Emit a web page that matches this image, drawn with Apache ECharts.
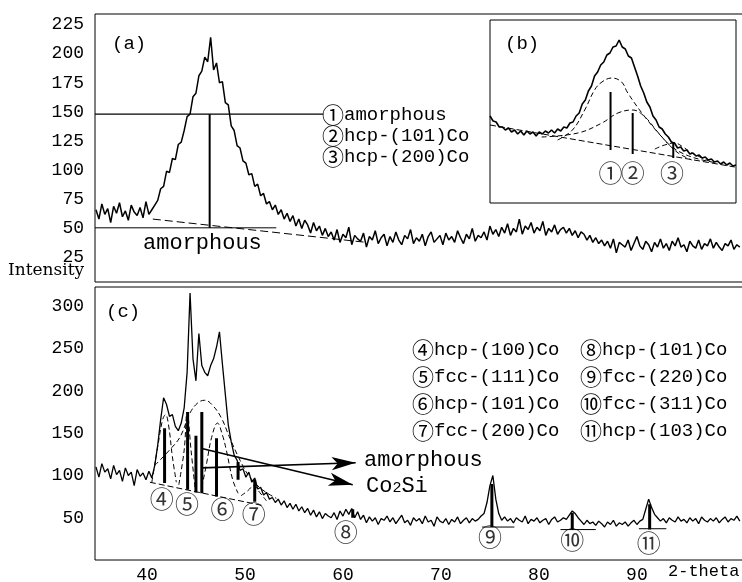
<!DOCTYPE html>
<html>
<head>
<meta charset="utf-8">
<script src="https://cdn.jsdelivr.net/npm/echarts@6/dist/echarts.min.js"></script>
<style>
  html, body { margin: 0; padding: 0; background: #fff; }
  #main { width: 742px; height: 582px; }
</style>
</head>
<body>
<div id="main"></div>
<script>
// scan step of the diffractometer traces (deg 2-theta)
const twoThetaStart = 34.8;
const twoThetaStep = 0.3;

// (a) amorphous film
const intensityA = [
  66, 58, 71, 62, 67, 55, 69, 63, 72, 60,
  65, 57, 70, 64, 61, 68, 59, 73, 62, 66,
  70, 74, 84, 86, 99, 98, 110, 109, 122, 124,
  134, 146, 148, 163, 166, 181, 185, 197, 193, 214,
  186, 192, 175, 176, 158, 156, 138, 134, 121, 119,
  108, 106, 96, 97, 86, 88, 78, 80, 71, 73,
  66, 70, 62, 66, 58, 63, 56, 61, 52, 58,
  50, 57, 53, 46, 55, 48, 52, 44, 50, 43,
  47, 40, 49, 38, 45, 42, 51, 36, 44, 41,
  39, 46, 34, 43, 40, 48, 37, 42, 45, 35,
  43, 38, 47, 40, 36, 44, 41, 49, 37, 42,
  39, 45, 35, 43, 47, 38, 41, 44, 36, 46,
  40, 43, 38, 48, 42, 37, 45, 41, 50, 39,
  44, 42, 47, 40, 52, 45, 49, 43, 51, 46,
  54, 44, 50, 47, 58, 45, 52, 49, 55, 46,
  51, 48, 56, 44, 50, 47, 53, 45, 49, 51,
  46, 50, 44, 48, 42, 47, 45, 40, 44, 38,
  42, 37, 40, 35, 39, 33, 41, 29, 38, 36,
  34, 40, 31, 37, 43, 35, 32, 39, 36, 30,
  38, 34, 41, 33, 37, 31, 39, 35, 42, 34,
  36, 30, 39, 35, 33, 40, 32, 37, 35, 41,
  33, 38, 34, 31, 37, 35, 40, 32, 36, 34
];

// (c) annealed film
const intensityC = [
  110, 98, 114, 104, 108, 96, 112, 101, 106, 93,
  109, 100, 104, 88, 107, 99, 103, 95, 105, 97,
  112, 136, 166, 192, 184, 170, 172, 158, 153, 162,
  180, 222, 316, 238, 212, 268, 230, 222, 218, 230,
  238, 252, 270, 232, 196, 160, 140, 124, 118, 106,
  108, 98, 104, 92, 97, 84, 86, 77, 80, 72,
  74, 68, 72, 65, 70, 62, 67, 60, 66, 58,
  63, 56, 61, 53, 59, 51, 57, 49, 55, 52,
  50, 56, 48, 58, 52, 60, 54, 61, 50, 57,
  48, 53, 44, 51, 46, 50, 42, 49, 47, 52,
  45, 50, 43, 48, 53, 44, 47, 41, 50, 46,
  49, 43, 52, 45, 47, 40, 51, 46, 44, 49,
  42, 48, 45, 51, 43, 47, 50, 44, 49, 46,
  48, 52, 55, 68, 88, 100, 72, 55, 47, 51,
  46, 49, 44, 50, 47, 45, 52, 43, 48, 46,
  50, 44, 47, 49, 42, 48, 51, 45, 47, 50,
  48, 53, 58, 55, 50, 46, 42, 47, 43, 45,
  41, 46, 43, 39, 45, 42, 47, 40, 44, 42,
  45, 40, 44, 47, 42, 46, 48, 60, 72, 62,
  54, 50, 46, 49, 44, 50, 47, 45, 51, 46,
  48, 44, 50, 46, 49, 43, 51, 47, 45, 49,
  46, 50, 44, 48, 51, 45, 49, 47, 52, 46
];

// (b) enlarged view of the hump in (a)
const insetStart = 36;
const insetStep = 0.25;
const insetIntensity = [
  127, 122, 121, 116, 116, 113, 115, 111, 113, 109,
  112, 108, 112, 109, 111, 107, 111, 109, 112, 110,
  113, 110, 114, 112, 116, 115, 120, 121, 127, 130,
  139, 143, 152, 157, 167, 171, 178, 181, 188, 190,
  196, 197, 203, 196, 194, 187, 185, 176, 167, 157,
  150, 141, 136, 127, 123, 116, 114, 109, 106, 101,
  100, 95, 96, 92, 93, 89, 90, 87, 88, 85,
  86, 83, 84, 81, 82, 79, 81, 78, 80, 77,
  78
];
const insetFit1 = [[41.5, 103], [42.7, 113], [43.7, 133], [44.5, 153], [45.1, 161], [45.9, 165], [46.7, 161], [47.2, 150], [48.6, 126], [50.2, 103], [51.3, 90], [52.4, 83]];
const insetFit2 = [[40.2, 106], [43.15, 110], [45.1, 120], [46.4, 130], [47.6, 133], [48.6, 126], [49.7, 110], [50.8, 96], [52.4, 86], [54.5, 80]];
const insetFit3 = [[49.4, 94], [50.2, 98], [51.0, 100], [51.7, 96], [52.4, 90], [54.0, 81]];
const insetBase = [[36, 118], [55.9, 76]];
const insetSticks = [[45.8, 93, 151], [47.6, 89, 130], [50.9, 85, 101]];
const insetMarks = [[45.8, 70, '①'], [47.6, 70, '②'], [50.8, 70, '③']];

// (a) annotations
const refLineA = [[34.7, 148], [58, 148]];
const floorA = [[34.7, 50.5], [53.2, 50.5]];
const baseA = [[40.6, 58], [62.4, 38]];
const sticksA = [[46.4, 50.5, 148]];

// (c) fitted components
const fitC4 = [[40.5, 92], [41.1, 134], [41.6, 166], [41.9, 172], [42.2, 160], [42.6, 122], [43.0, 92]];
const fitC5 = [[43.25, 89], [43.8, 130], [44.1, 175], [44.5, 130], [44.9, 86]];
const fitC6 = [[45.6, 86], [46.1, 115], [46.6, 145], [47.2, 162], [47.7, 148], [48.1, 130], [48.75, 95], [49.3, 79]];
const fitC7 = [[49.6, 76], [50.3, 82], [50.9, 88], [51.5, 80], [52.2, 70]];
const fitCAmor = [[40.8, 112], [42.3, 130], [43.4, 146], [44.4, 174], [45.2, 186], [45.9, 189], [46.7, 183], [47.6, 168], [48.4, 146], [49.5, 118], [50.5, 98], [51.8, 83], [53.2, 73]];
const baseC = [[40.3, 92], [52, 64]];
const sticksC = [[41.8, 91, 156], [44.15, 83, 175], [45.0, 80, 147], [45.6, 79, 175], [47.1, 75, 144], [49.3, 95, 116], [51.0, 69, 95], [61.0, 50, 60], [75.2, 39, 90], [83.4, 36, 56], [91.3, 36, 66]];
const floorsC = [[[74.2, 39], [77.5, 39]], [[82.2, 36], [85.8, 36]], [[90.2, 37], [93.0, 37]]];
const peakMarksC = [[41.5, 72, '④'], [44.1, 66, '⑤'], [47.7, 60, '⑥'], [50.9, 54, '⑦'], [60.3, 33, '⑧'], [75.0, 27, '⑨'], [83.4, 24, '⑩'], [91.2, 20, '⑪']];
const arrowAmorphous = [[45.6, 109], [61.3, 115]];
const arrowCo2Si = [[45.6, 132], [61.0, 89]];

const xTicks = [40, 50, 60, 70, 80, 90];
const yTicksA = [25, 50, 75, 100, 125, 150, 175, 200, 225];
const yTicksC = [50, 100, 150, 200, 250, 300];

const legendA = [['①', 'amorphous'], ['②', 'hcp-(101)Co'], ['③', 'hcp-(200)Co']];
const legendC1 = [['④', 'hcp-(100)Co'], ['⑤', 'fcc-(111)Co'], ['⑥', 'hcp-(101)Co'], ['⑦', 'fcc-(200)Co']];
const legendC2 = [['⑧', 'hcp-(101)Co'], ['⑨', 'fcc-(220)Co'], ['⑩', 'fcc-(311)Co'], ['⑪', 'hcp-(103)Co']];

const MONO = '"Liberation Mono", "Noto Sans CJK JP", monospace';
const CIRC = '"Noto Sans CJK JP", "DejaVu Sans", sans-serif';

const chart = echarts.init(document.getElementById('main'), null, { renderer: 'canvas' });

const toPairs = (arr, start, step) => arr.map((v, i) => [+(start + i * step).toFixed(2), v]);

const line = (ax, data, style) => ({
  type: 'line', xAxisIndex: ax, yAxisIndex: ax, data: data,
  symbol: 'none', silent: true, smooth: style.smooth || false,
  lineStyle: { color: '#000', width: style.width || 1, type: style.type || 'solid' },
  z: style.z || 2
});

const stickSeries = (ax, list, w) => list.map(s => line(ax, [[s[0], s[1]], [s[0], s[2]]], { width: w, z: 4 }));

const markSeries = (ax, list, size) => ({
  type: 'scatter', xAxisIndex: ax, yAxisIndex: ax, symbolSize: 0, silent: true,
  data: list.map(m => ({ value: [m[0], m[1]], name: m[2] })),
  label: { show: true, position: 'inside', formatter: p => p.name, color: '#000', fontSize: size, fontFamily: CIRC }
});

const legendText = (item, left, top) => ({
  type: 'text', left: left, top: top,
  style: {
    text: '{c|' + item[0] + '}{t|' + item[1] + '}', fill: '#000',
    rich: {
      c: { fontSize: 22, fontFamily: CIRC, verticalAlign: 'middle', height: 24 },
      t: { fontSize: 19, fontFamily: MONO, verticalAlign: 'middle', height: 24 }
    }
  }
});

const series = [];
// (a)
series.push(line(0, toPairs(intensityA, twoThetaStart, twoThetaStep), { width: 1.5 }));
series.push(line(0, refLineA, { width: 1.2 }));
series.push(line(0, floorA, { width: 1 }));
series.push(line(0, baseA, { width: 1, type: [8, 4] }));
series.push(...stickSeries(0, sticksA, 2));
// (c)
series.push(line(1, toPairs(intensityC, twoThetaStart, twoThetaStep), { width: 1.3 }));
[fitC4, fitC5, fitC6, fitC7, fitCAmor].forEach(f => series.push(line(1, f, { type: [5, 3], smooth: 0.4 })));
series.push(line(1, baseC, { type: [6, 3] }));
floorsC.forEach(f => series.push(line(1, f, { width: 1 })));
series.push(...stickSeries(1, sticksC, 3));
series.push(markSeries(1, peakMarksC, 24));
series.push({
  type: 'line', xAxisIndex: 1, yAxisIndex: 1, data: [], silent: true,
  markLine: {
    silent: true, symbol: ['none', 'arrow'], symbolSize: [10, 24],
    label: { show: false },
    lineStyle: { color: '#000', width: 1.6, type: 'solid' },
    data: [
      [{ coord: arrowAmorphous[0] }, { coord: arrowAmorphous[1] }],
      [{ coord: arrowCo2Si[0] }, { coord: arrowCo2Si[1] }]
    ]
  }
});
// (b)
series.push(line(2, toPairs(insetIntensity, insetStart, insetStep), { width: 1.6 }));
[insetFit1, insetFit2, insetFit3].forEach(f => series.push(line(2, f, { type: [5, 3], smooth: 0.4 })));
series.push(line(2, insetBase, { type: [6, 3] }));
series.push(...stickSeries(2, insetSticks, 2));
series.push(markSeries(2, insetMarks, 24));

const yLabel = { color: '#000', fontSize: 18, fontFamily: MONO, margin: 11 };

const option = {
  animation: false,
  backgroundColor: '#fff',
  grid: [
    { left: 95, top: 14, width: 660, height: 268, show: true, borderColor: '#000', borderWidth: 1, outerBoundsMode: 'none' },
    { left: 95, top: 287, width: 660, height: 273, show: true, borderColor: '#000', borderWidth: 1, outerBoundsMode: 'none' },
    { left: 490, top: 20, width: 246, height: 183, show: true, borderColor: '#000', borderWidth: 1, backgroundColor: '#fff', outerBoundsMode: 'none' }
  ],
  xAxis: [
    { type: 'value', gridIndex: 0, min: 34.7, max: 102.05, axisLine: { show: false }, axisTick: { show: false }, axisLabel: { show: false }, splitLine: { show: false } },
    { type: 'value', gridIndex: 1, min: 34.7, max: 102.05, axisLine: { show: false }, axisTick: { show: false }, splitLine: { show: false },
      axisLabel: { customValues: xTicks, color: '#000', fontSize: 18, fontFamily: MONO, margin: 6 } },
    { type: 'value', gridIndex: 2, min: 36, max: 56, show: false }
  ],
  yAxis: [
    { type: 'value', gridIndex: 0, min: 4, max: 234, axisLine: { show: false }, axisTick: { show: false }, splitLine: { show: false },
      axisLabel: Object.assign({ customValues: yTicksA }, yLabel) },
    { type: 'value', gridIndex: 1, min: 0, max: 323, axisLine: { show: false }, axisTick: { show: false }, splitLine: { show: false },
      axisLabel: Object.assign({ customValues: yTicksC }, yLabel) },
    { type: 'value', gridIndex: 2, min: 40, max: 223, show: false }
  ],
  graphic: [
    { type: 'text', left: 112, top: 34, style: { text: '(a)', font: '19px ' + MONO, fill: '#000' } },
    { type: 'text', left: 505, top: 34, style: { text: '(b)', font: '19px ' + MONO, fill: '#000' } },
    { type: 'text', left: 106, top: 302, style: { text: '(c)', font: '19px ' + MONO, fill: '#000' } },
    { type: 'text', left: 8, top: 262, style: { text: 'Intensity', font: '17px "DejaVu Serif", serif', fill: '#000' } },
    { type: 'text', left: 668, top: 563, style: { text: '2-theta', font: '17px ' + MONO, fill: '#000' } },
    { type: 'text', left: 143, top: 232, style: { text: 'amorphous', font: '22px ' + MONO, fill: '#000' } },
    { type: 'text', left: 364, top: 449, style: { text: 'amorphous', font: '22px ' + MONO, fill: '#000' } },
    { type: 'text', left: 366, top: 475, style: {
        text: '{a|Co}{s|2}{a|Si}', fill: '#000',
        rich: { a: { fontSize: 22, fontFamily: MONO, verticalAlign: 'bottom', height: 26 }, s: { fontSize: 15, fontFamily: MONO, verticalAlign: 'bottom', height: 22 } }
      } },
    ...legendA.map((t, i) => legendText(t, 322, 104 + i * 21)),
    ...legendC1.map((t, i) => legendText(t, 412, 339 + i * 27)),
    ...legendC2.map((t, i) => legendText(t, 580, 339 + i * 27))
  ],
  series: series
};

chart.setOption(option);
</script>
</body>
</html>
